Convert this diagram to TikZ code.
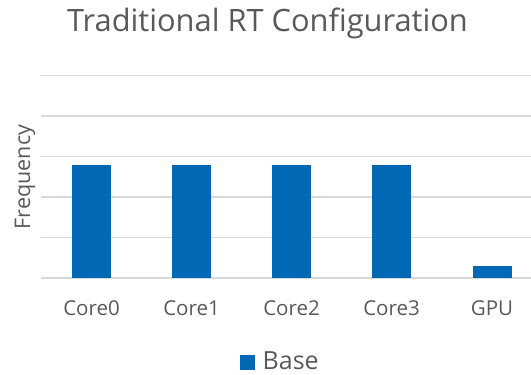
\documentclass[tikz,border=0pt]{standalone}
\usepackage{fontspec}
\setmainfont{Open Sans}
\definecolor{barblue}{RGB}{0,104,181}
\definecolor{txtgray}{RGB}{89,89,89}
\definecolor{gridgray}{RGB}{217,217,217}
\begin{document}
\begin{tikzpicture}[
    x=1pt, y=1pt,
    txt/.style={text=txtgray, inner sep=0pt},
    catlbl/.style={txt, font=\fontsize{20.5}{24}\selectfont},
    bar/.style={fill=barblue, draw=none, inner sep=0pt, minimum width=39pt,
                anchor=south},
    grid/.style={gridgray, line width=1.3pt},
  ]
  \useasboundingbox (0,0) rectangle (531,375);

  %% ================================================================
  %% Title and axis label
  %% ================================================================
  \node[txt, font=\fontsize{30.8}{36}\selectfont] (title) at (267.5, 352)
    {Traditional RT Configuration};
  \node[txt, font=\fontsize{21.5}{26}\selectfont, rotate=90] (ylbl) at (25, 198)
    {Frequency};

  %% ================================================================
  %% Gridlines
  %% ================================================================
  \foreach \i in {0,...,5}
    \draw[grid] (41, 97+40.5*\i) -- (531, 97+40.5*\i);

  %% ================================================================
  %% Bars and category labels
  %% ================================================================
  \node[bar, minimum height=113pt] (c0) at (91.5, 97)  {};
  \node[bar, minimum height=113pt] (c1) at (191.5, 97) {};
  \node[bar, minimum height=113pt] (c2) at (291.5, 97) {};
  \node[bar, minimum height=113pt] (c3) at (391.5, 97) {};
  \node[bar, minimum height=11.3pt] (gpu) at (492, 97) {};

  \node[catlbl] (l0) at (91.5, 67)  {Core0};
  \node[catlbl] (l1) at (191.5, 67) {Core1};
  \node[catlbl] (l2) at (291.5, 67) {Core2};
  \node[catlbl] (l3) at (391.5, 67) {Core3};
  \node[catlbl] (lg) at (492, 67)   {GPU};

  %% ================================================================
  %% Legend
  %% ================================================================
  \node[fill=barblue, minimum size=15.5pt, inner sep=0pt] (key) at (247.5, 12.5) {};
  \node[txt, font=\fontsize{25}{30}\selectfont, anchor=base west, text depth=0pt]
    (keylbl) at ([xshift=7pt,yshift=0.5pt]key.south east) {Base};

  \end{tikzpicture}
\end{document}
